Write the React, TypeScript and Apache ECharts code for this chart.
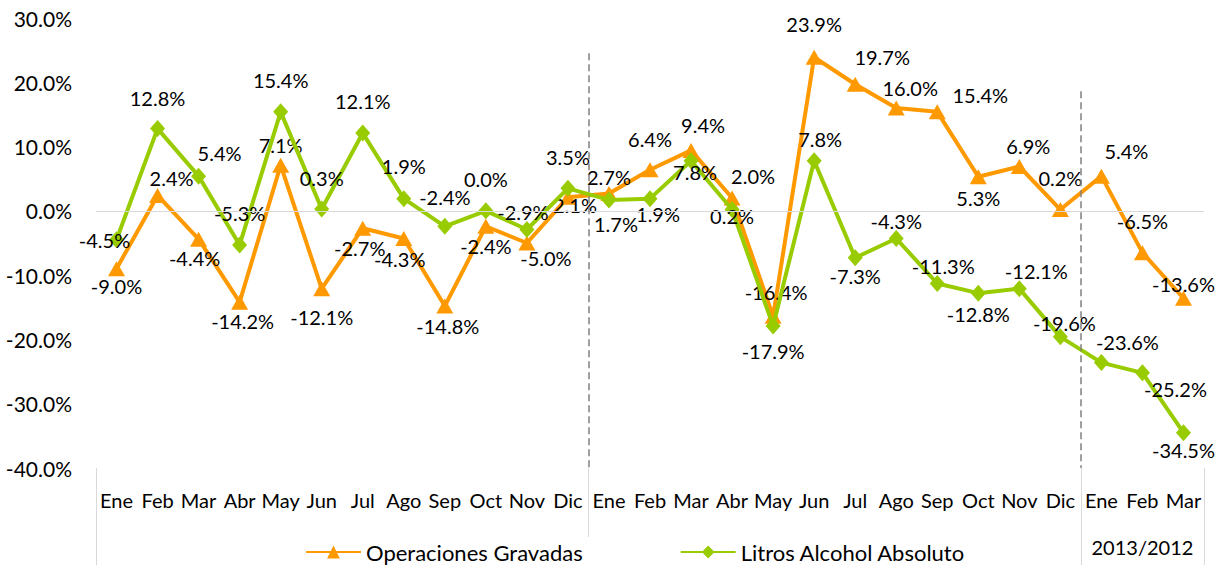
import React, { useEffect, useRef } from "react";
import * as echarts from "echarts";

const categories = [
  "Ene", "Feb", "Mar", "Abr", "May", "Jun", "Jul", "Ago", "Sep", "Oct", "Nov", "Dic",
  "Ene", "Feb", "Mar", "Abr", "May", "Jun", "Jul", "Ago", "Sep", "Oct", "Nov", "Dic",
  "Ene", "Feb", "Mar",
];

const operacionesGravadas = [
  -9.0, 2.4, -4.4, -14.2, 7.1, -12.1, -2.7, -4.3, -14.8, -2.4, -5.0, 2.1,
  2.7, 6.4, 9.4, 2.0, -16.4, 23.9, 19.7, 16.0, 15.4, 5.3, 6.9, 0.2,
  5.4, -6.5, -13.6,
];

const litrosAlcoholAbsoluto = [
  -4.5, 12.8, 5.4, -5.3, 15.4, 0.3, 12.1, 1.9, -2.4, 0.0, -2.9, 3.5,
  1.7, 1.9, 7.8, 0.2, -17.9, 7.8, -7.3, -4.3, -11.3, -12.8, -12.1, -19.6,
  -23.6, -25.2, -34.5,
];

const yMin = -40;
const yMax = 30;
const yInterval = 10;

// category boundaries of the periods (index on a 0..27 band scale)
const periodBounds = [0, 12, 24, 27];
// dashed separators: boundary index and top value
const dashedBreaks = [
  { at: 12, top: 24.5 },
  { at: 24, top: 18.6 },
];
const periodLabels = [{ from: 24, to: 27, text: "2013/2012" }];

// label placement (style only): offsets of label centre from the point
const opLabelOffsets: [number, number][] = [
  [0, 17], [14, -17], [-4, 19], [3, 19], [0, -20], [0, 28], [-3, 20], [-4, 20], [3, 20], [0, 20], [19, 15], [7, 8],
  [0, -17], [0, -31], [12, -25], [21, -22], [3, -24], [0, -33], [27, -27], [14, -20], [43, -17], [0, 21], [9, -21], [0, -32],
  [25, -25], [0, -32], [0, -14],
];
const litLabelOffsets: [number, number][] = [
  [-12, 0], [0, -31], [21, -23], [0, -32], [0, -32], [0, -31], [0, -32], [0, -33], [0, -29], [0, -32], [-4, -18], [0, -31],
  [7, 24], [8, 15], [4, 11], [0, 6], [0, 25], [6, -22], [0, 18], [0, -18], [6, -18], [0, 21], [17, -18], [4, -14],
  [26, -21], [33, 16], [0, 17],
];

const FONT = "Lato, 'Open Sans', sans-serif";
const FS = 20;
const ORANGE = "#FF9900";
const GREEN = "#99CC00";

export default function App() {
  const ref = useRef<HTMLDivElement>(null);

  useEffect(() => {
    if (!ref.current) return;
    const chart = echarts.init(ref.current, undefined, { renderer: "svg" });
    const fmt = (v: number) => `${v.toFixed(1)}%`;

    const mkData = (vals: number[], offs: [number, number][]) =>
      vals.map((v, i) => ({ value: v, label: { offset: offs[i] } }));

    chart.setOption({
      animation: false,
      backgroundColor: "#fff",
      textStyle: { fontFamily: FONT },
      grid: { left: 96, right: 24, top: 18, bottom: 97, containLabel: false },
      legend: {
        data: ["Operaciones Gravadas", "Litros Alcohol Absoluto"],
        left: 302,
        top: 537,
        itemWidth: 55,
        itemHeight: 16,
        itemGap: 97,
        padding: [3, 3, 3, 3],
        backgroundColor: "#fff",
        textStyle: { fontSize: 22, color: "#000", fontFamily: FONT, lineHeight: 24 },
        z: 10,
      },
      xAxis: [
        {
          type: "category",
          data: categories,
          boundaryGap: true,
          axisLine: { show: false },
          axisTick: { show: false },
          splitLine: { show: false },
          axisLabel: { interval: 0, color: "#000", fontSize: FS, fontFamily: FONT, margin: 22 },
        },
        {
          type: "value",
          min: 0,
          max: 27,
          show: false,
          splitLine: { show: false },
        },
      ],
      yAxis: {
        type: "value",
        min: yMin,
        max: yMax,
        interval: yInterval,
        axisLine: { show: false },
        axisTick: { show: false },
        splitLine: { show: false },
        axisLabel: { formatter: fmt, color: "#000", fontSize: 21, fontFamily: FONT, margin: 24 },
      },
      series: [
        {
          type: "line",
          xAxisIndex: 1,
          data: [],
          silent: true,
          markLine: {
            silent: true,
            symbol: "none",
            label: { show: false },
            data: [
              [
                { coord: [0, 0], lineStyle: { color: "#d9d9d9", width: 1, type: "solid" } },
                { coord: [27, 0] },
              ],
              ...dashedBreaks.map((d) => [
                { coord: [d.at, d.top], lineStyle: { color: "#808080", width: 1.5, type: [7, 4] } },
                { coord: [d.at, yMin] },
              ]),
            ],
          },
        },
        {
          name: "Operaciones Gravadas",
          type: "line",
          data: mkData(operacionesGravadas, opLabelOffsets),
          symbol: "triangle",
          symbolSize: [17, 15],
          itemStyle: { color: ORANGE },
          lineStyle: { color: ORANGE, width: 4 },
          label: {
            show: true,
            position: "inside",
            formatter: (p: any) => fmt(p.value),
            color: "#000",
            fontSize: FS,
            fontFamily: FONT,
          },
          z: 3,
        },
        {
          name: "Litros Alcohol Absoluto",
          type: "line",
          data: mkData(litrosAlcoholAbsoluto, litLabelOffsets),
          symbol: "diamond",
          symbolSize: [15, 17],
          itemStyle: { color: GREEN },
          lineStyle: { color: GREEN, width: 4 },
          label: {
            show: true,
            position: "inside",
            formatter: (p: any) => fmt(p.value),
            color: "#000",
            fontSize: FS,
            fontFamily: FONT,
          },
          z: 4,
        },
      ],
    });

    const px = (v: number) => chart.convertToPixel({ xAxisIndex: 1 }, v) as number;
    const yBottom = chart.convertToPixel({ yAxisIndex: 0 }, yMin) as number;
    const graphics: any[] = [];
    periodBounds.forEach((b) => {
      const x = Math.round(px(b)) + 0.5;
      graphics.push({
        type: "line",
        z: 1,
        silent: true,
        shape: { x1: x, y1: yBottom, x2: x, y2: 565 },
        style: { stroke: "#d9d9d9", lineWidth: 1 },
      });
    });
    periodLabels.forEach((p) => {
      graphics.push({
        type: "text",
        z: 2,
        silent: true,
        x: px((p.from + p.to) / 2),
        y: 547,
        style: {
          text: p.text,
          align: "center",
          verticalAlign: "middle",
          fontSize: FS,
          fontFamily: FONT,
          fill: "#000",
        },
      });
    });
    chart.setOption({ graphic: graphics });

    return () => chart.dispose();
  }, []);

  return (
    <div
      ref={ref}
      style={{ position: "absolute", left: 0, top: 0, width: 1228, height: 565 }}
    />
  );
}
